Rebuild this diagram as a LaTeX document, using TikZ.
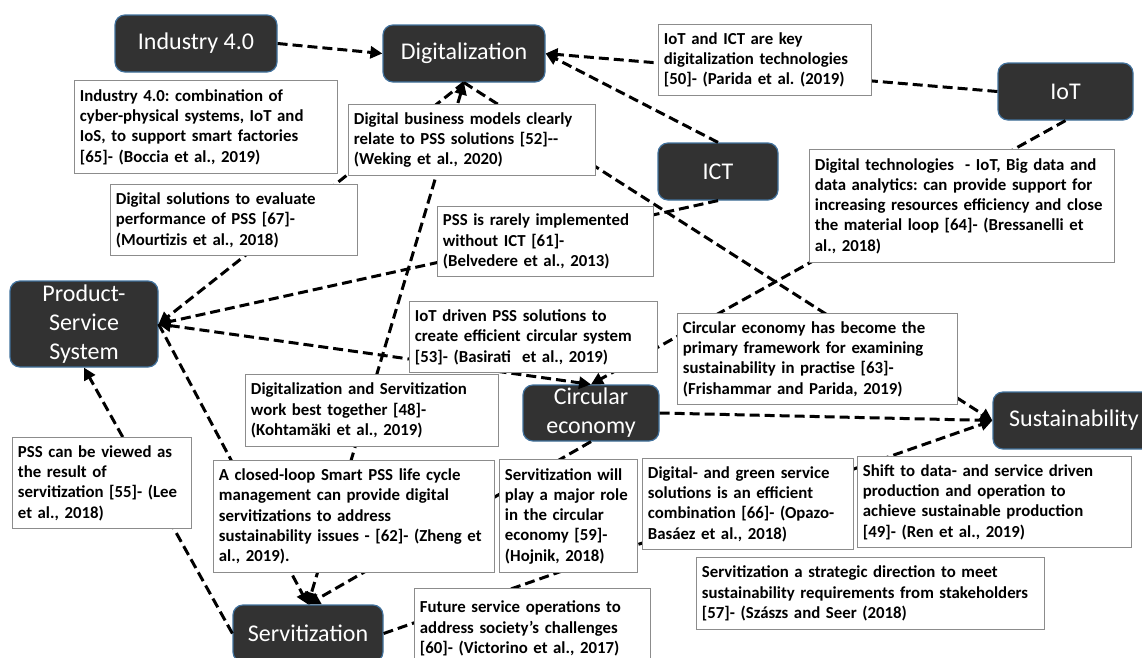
\documentclass[tikz,border=0pt]{standalone}
\usepackage{fontspec}
\setmainfont{Carlito}
\usepackage{xcolor}
\usetikzlibrary{arrows.meta}
\definecolor{boxdark}{RGB}{50,50,50}
\definecolor{boxedge}{RGB}{65,113,156}
\definecolor{noteedge}{RGB}{140,140,140}
\frenchspacing

\begin{document}
\begin{tikzpicture}[x=0.75pt,y=0.75pt,yscale=-1,xscale=1,
  concept/.style={draw=boxedge, line width=0.9pt, fill=boxdark, text=white, rounded corners=7.5pt, align=center, inner sep=2pt, font=\fontsize{18}{21.75}\selectfont},
  note/.style={draw=noteedge, line width=0.9pt, fill=white, anchor=north west, align=left, inner xsep=4pt, inner ysep=4pt, font=\bfseries\fontsize{12.6}{15.2}\selectfont},
  dashlink/.style={line width=2.25pt, dash pattern={on 7.5pt off 3.75pt}},
  tohead/.style={-{Triangle[length=9pt,width=9pt]}},
  bothhead/.style={{Triangle[length=9pt,width=9pt]}-{Triangle[length=9pt,width=9pt]}}
]
\useasboundingbox (0,0) rectangle (1142,657);

% Text Node
\node[concept, minimum width=121.5pt, minimum height=42.75pt] (ind) at (196,43.5) {Industry 4.0};
% Text Node
\node[concept, minimum width=121.5pt, minimum height=42.75pt] (dig) at (464,53.5) {Digitalization};
% Text Node
\node[concept, minimum width=101.25pt, minimum height=42.75pt] (iot) at (1065.5,91.5) {IoT};
% Text Node
\node[concept, minimum width=90pt, minimum height=42.75pt] (ict) at (718,171.5) {ICT};
% Text Node
\node[concept, minimum width=111pt, minimum height=64.5pt] (pss) at (84,324) {Product-\\Service\\System};
% Text Node
\node[concept, minimum width=102pt, minimum height=42pt] (ce) at (591,413) {Circular\\economy};
% Text Node
\node[concept, minimum width=121.5pt, minimum height=42.75pt] (sus) at (1074,420.5) {Sustainability};
% Text Node
\node[concept, minimum width=112.5pt, minimum height=42.75pt] (serv) at (308,633.5) {Servitization};

%Straight Lines
\draw[dashlink, tohead] (ind.east) -- (dig.west);
\draw[dashlink, tohead] (iot.west) -- (dig.east);
\draw[dashlink, tohead] (ict.north) -- (dig.east);
\draw[dashlink, tohead] (dig.south) -- (sus.west);
\draw[dashlink, bothhead] (dig.south) -- (serv.north);
\draw[dashlink, tohead] (dig.south) -- (pss.east);
\draw[dashlink, tohead] (ict.south) -- (pss.east);
\draw[dashlink, bothhead] (pss.east) -- (ce.north);
\draw[dashlink, tohead] (iot.south) -- (ce.north);
\draw[dashlink, tohead] (pss.east) -- (serv.north);
\draw[dashlink, tohead] (serv.west) -- (pss.south);
\draw[dashlink, tohead] (ce.south) -- (serv.north);
\draw[dashlink, tohead] (serv.east) -- (sus.west);
\draw[dashlink, tohead] (ce.east) -- (sus.west);

% Text Node
\node[note, minimum width=197.25pt, text width=189.25pt, minimum height=69.75pt] (n65) at (74,80) {Industry 4.0: combination of\\cyber-physical systems, IoT and\\IoS, to support smart factories\\{[65]}- (Boccia et al., 2019)};
% Text Node
\node[note, minimum width=185.25pt, text width=177.25pt, minimum height=53.25pt] (n52) at (348,104) {Digital business models clearly\\relate to PSS solutions {[52]}-{}-\\(Weking et al., 2020)};
% Text Node
\node[note, minimum width=159.75pt, text width=151.75pt, minimum height=53.25pt] (n50) at (658,24) {IoT and ICT are key\\digitalization technologies\\{[50]}- (Parida et al. (2019)};
% Text Node
\node[note, minimum width=185.25pt, text width=177.25pt, minimum height=53.25pt] (n67) at (110,184) {Digital solutions to evaluate\\performance of PSS {[67]}-\\(Mourtizis et al., 2018)};
% Text Node
\node[note, minimum width=162pt, text width=154pt, minimum height=52.5pt] (n61) at (437,206) {PSS is rarely implemented\\without ICT {[61]}-\\(Belvedere et al., 2013)};
% Text Node
\node[note, minimum width=228.75pt, text width=220.75pt, minimum height=84.75pt] (n64) at (809,149) {Digital technologies\ \ - IoT, Big data and\\data analytics: can provide support for\\increasing resources efficiency and close\\the material loop {[64]}- (Bressanelli et\\al., 2018)};
% Text Node
\node[note, minimum width=186pt, text width=178pt, minimum height=53.25pt] (n53) at (409,301) {IoT driven PSS solutions to\\create efficient circular system\\{[53]}- (Basirati\ \ et al., 2019)};
% Text Node
\node[note, minimum width=210pt, text width=202pt, minimum height=68.25pt] (n63) at (677,313) {Circular economy has become the\\primary framework for examining\\sustainability in practise {[63]}-\\(Frishammar and Parida, 2019)};
% Text Node
\node[note, minimum width=189.75pt, text width=181.75pt, minimum height=54pt] (n48) at (245,374) {Digitalization and Servitization\\work best together {[48]}-\\(Kohtamäki et al., 2019)};
% Text Node
\node[note, minimum width=134.25pt, text width=126.25pt, minimum height=68.25pt] (n55) at (12,437) {PSS can be viewed as\\the result of\\servitization {[55]}- (Lee\\et al., 2018)};
% Text Node
\node[note, minimum width=210.75pt, text width=202.75pt, minimum height=84pt] (n62) at (213,460) {A closed-loop Smart PSS life cycle\\management can provide digital\\servitizations to address\\sustainability issues - {[62]}- (Zheng et\\al., 2019).};
% Text Node
\node[note, minimum width=103.5pt, text width=95.5pt, minimum height=84.75pt] (n59) at (499,459) {Servitization will\\play a major role\\in the circular\\economy {[59]}-\\(Hojnik, 2018)};
% Text Node
\node[note, minimum width=158.25pt, text width=150.25pt, minimum height=68.25pt] (n66) at (642,458) {Digital- and green service\\solutions is an efficient\\combination {[66]}- (Opazo-\\Basáez et al., 2018)};
% Text Node
\node[note, minimum width=205.5pt, text width=197.5pt, minimum height=68.25pt] (n49) at (857,456) {Shift to data- and service driven\\production and operation to\\achieve sustainable production\\{[49]}- (Ren et al., 2019)};
% Text Node
\node[note, minimum width=261pt, text width=253pt, minimum height=54pt] (n57) at (696,557) {Servitization a strategic direction to meet\\sustainability requirements from stakeholders\\{[57]}- (Szászs and Seer (2018)};
% Text Node
\node[note, minimum width=177pt, text width=169pt, minimum height=60pt] (n60) at (414,588) {Future service operations to\\address society’s challenges\\{[60]}- (Victorino et al., 2017)};
\end{tikzpicture}
\end{document}
